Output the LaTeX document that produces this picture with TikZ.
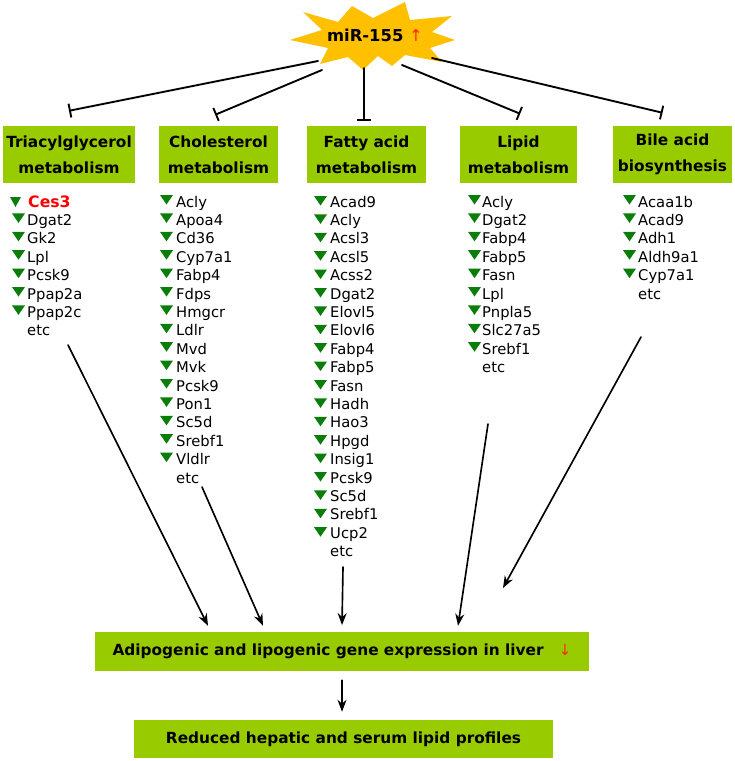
\documentclass[tikz,border=0pt]{standalone}
\usepackage{fontspec}
\setmainfont{DejaVu Sans}
\usetikzlibrary{arrows.meta,positioning}
\definecolor{boxgreen}{HTML}{99CC00}
\definecolor{stargold}{HTML}{FFC000}
\definecolor{tridown}{HTML}{0A7D0A}
\definecolor{upred}{HTML}{FF2A00}

\begin{document}
\begin{tikzpicture}[x=0.03cm,y=-0.03cm,line cap=round,line join=round,
  head/.style={fill=boxgreen,inner sep=0pt,minimum height=1.71cm,align=center,
    font=\bfseries\fontsize{13.1}{22}\selectfont},
  result/.style={fill=boxgreen,inner sep=0pt,font=\bfseries\fontsize{13.1}{15}\selectfont},
  gene/.style={anchor=base west,inner sep=0pt,font=\fontsize{12.6}{15}\selectfont},
  tri/.style={fill=tridown},
  inhib/.style={line width=1.6pt,-{Bar[width=0.42cm,line width=1.6pt]}},
  leads/.style={line width=1.4pt,-{Stealth[length=0.36cm,width=0.27cm]}}]
\path[use as bounding box] (0,0) rectangle (735,761);
% star with miR-155
\fill[stargold] (303,12)--(338,22)--(352,6)--(373,18)--(405,2)--(410,20)--(452,16)--(432,32)
  --(455,40)--(430,48)--(442,62)--(405,55)--(392,66)--(378,56)--(363,70)--(348,57)
  --(320,64)--(328,48)--(290,40)--(322,30)--cycle;
\node[inner sep=0pt,font=\bfseries\fontsize{14}{16}\selectfont] (mir) at (375,35) {miR-155 \textcolor{upred}{\mdseries ↑}};
\coordinate (s1) at (318,61);
\coordinate (s2) at (322,70);
\coordinate (s3) at (364,68);
\coordinate (s4) at (402,65);
\coordinate (s5) at (432,58);
% pathway boxes
\node[head,minimum width=3.96cm] (tag) at (69,154.5) {Triacylglycerol\\metabolism};
\node[head,minimum width=3.57cm] (chol) at (218.5,154.5) {Cholesterol\\metabolism};
\node[head,minimum width=3.57cm] (fatty) at (366.5,154.5) {Fatty acid\\metabolism};
\node[head,minimum width=3.51cm] (lipid) at (518.5,154.5) {Lipid\\metabolism};
\node[head,minimum width=3.57cm] (bile) at (672.5,154.5) {Bile acid\\biosynthesis};
\draw[inhib] (s1) -- ([yshift=0.45cm]tag.north);
\draw[inhib] (s2) -- ([xshift=-0.1cm,yshift=0.33cm]chol.north);
\draw[inhib] (s3) -- ([xshift=-0.075cm,yshift=0.15cm]fatty.north);
\draw[inhib] (s4) -- ([xshift=0.05cm,yshift=0.36cm]lipid.north);
\draw[inhib] (s5) -- ([xshift=-0.3cm,yshift=0.39cm]bile.north);
% gene lists
\fill[tri] (10,197) -- ++(11,0) -- ++(-5.5,10) -- cycle;
\node[gene,font=\bfseries\fontsize{13.4}{15}\selectfont,text=red] (tag-1) at (28,207) {Ces3};
\foreach \g [count=\i from 2] in {Dgat2,Gk2,Lpl,Pcsk9,Ppap2a,Ppap2c} {
  \fill[tri] (12,{195+18.4*(\i-1)}) -- ++(13,0) -- ++(-6.5,9.5) -- cycle;
  \node[gene] (tag-\i) at (27,{207+18.4*(\i-1)}) {\g};
}
\node[gene] (tag-etc) at (27,{207+18.4*7}) {etc};
\foreach \g [count=\i] in {Acly,Apoa4,Cd36,Cyp7a1,Fabp4,Fdps,Hmgcr,Ldlr,Mvd,Mvk,Pcsk9,Pon1,Sc5d,Srebf1,Vldlr} {
  \fill[tri] (160,{195+18.4*(\i-1)}) -- ++(13,0) -- ++(-6.5,9.5) -- cycle;
  \node[gene] (chol-\i) at (176,{207+18.4*(\i-1)}) {\g};
}
\node[gene] (chol-etc) at (176,{207+18.4*15}) {etc};
\foreach \g [count=\i] in {Acad9,Acly,Acsl3,Acsl5,Acss2,Dgat2,Elovl5,Elovl6,Fabp4,Fabp5,Fasn,Hadh,Hao3,Hpgd,Insig1,Pcsk9,Sc5d,Srebf1,Ucp2} {
  \fill[tri] (314,{196+18.4*(\i-1)}) -- ++(13,0) -- ++(-6.5,9.5) -- cycle;
  \node[gene] (fatty-\i) at (330,{207+18.4*(\i-1)}) {\g};
}
\node[gene] (fatty-etc) at (330,{207+18.4*19}) {etc};
\foreach \g [count=\i] in {Acly,Dgat2,Fabp4,Fabp5,Fasn,Lpl,Pnpla5,Slc27a5,Srebf1} {
  \fill[tri] (468,{195+18.4*(\i-1)}) -- ++(13,0) -- ++(-6.5,9.5) -- cycle;
  \node[gene] (lipid-\i) at (482,{207+18.4*(\i-1)}) {\g};
}
\node[gene] (lipid-etc) at (482,{207+18.4*9}) {etc};
\foreach \g [count=\i] in {Acaa1b,Acad9,Adh1,Aldh9a1,Cyp7a1} {
  \fill[tri] (623,{195+18.4*(\i-1)}) -- ++(13,0) -- ++(-6.5,9.5) -- cycle;
  \node[gene] (bile-\i) at (638,{207+18.4*(\i-1)}) {\g};
}
\node[gene] (bile-etc) at (638,{207+18.4*5}) {etc};
% outcome boxes
\node[result,minimum width=14.82cm,minimum height=1.17cm] (adip) at (342,651.5)
  {Adipogenic and lipogenic gene expression in liver\hspace{0.45cm}\textcolor{upred}{\mdseries ↓}};
\node[result,minimum width=12.57cm,minimum height=1.14cm] (lipo) at (343.5,739) {Reduced hepatic and serum lipid profiles};
\coordinate (e1) at (68,345);
\coordinate (e2) at (202,487);
\coordinate (e3) at (343,567);
\coordinate (e4) at (488,424);
\coordinate (e5) at (641,337);
\coordinate (e5end) at (503,588);
\draw[leads] (e1) -- ([xshift=-4.02cm,yshift=0.18cm]adip.north);
\draw[leads] (e2) -- ([xshift=-2.37cm,yshift=0.18cm]adip.north);
\draw[leads] (e3) -- ([yshift=0.2cm]adip.north);
\draw[leads] (e4) -- ([xshift=3.48cm,yshift=0.18cm]adip.north);
\draw[leads] (e5) -- (e5end);
\draw[leads,shorten <=0.27cm,shorten >=0.24cm] (adip.south) -- (adip.south |- lipo.north);
\end{tikzpicture}
\end{document}
